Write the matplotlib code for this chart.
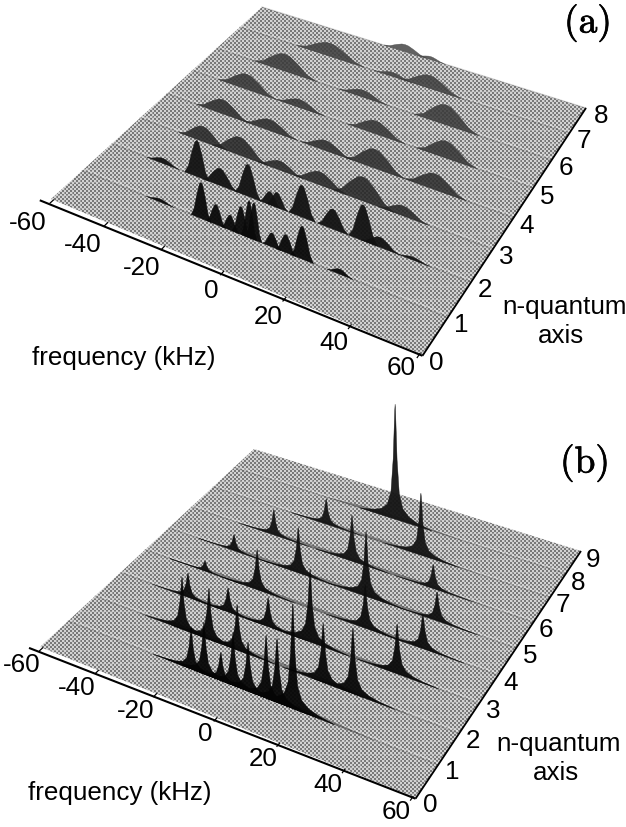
import numpy as np
import matplotlib
matplotlib.use("Agg")
import matplotlib.pyplot as plt
from matplotlib.patches import Polygon
import matplotlib.patheffects as pe

plt.rcParams['font.family'] = ['Liberation Sans', 'DejaVu Sans']

W, H = 626, 827
FS = 18.7

FREQ_TICKS = [-60, -40, -20, 0, 20, 40, 60]

# panel (a): one list per row n = 1..8
A_FREQ = [
    [-31.5, -17.2, -12.1, -7.3, -3.7, -1.0, 0.6, 6.5, 11.0, 16.2, 28.0],
    [-40.8, -28.5, -20.3, -10.6, -3.1, -0.7, 7.6, 17.7, 27.3, 32.6, 42.8],
    [-36.1, -22.7, -8.5, 5.2, 19.5, 32.4],
    [-38.4, -20.9, -1.0, 15.7, 35.5],
    [-38.6, -18.7, 8.4, 32.2],
    [-33.0, -3.9, 25.3],
    [-24.2, -0.6, 12.8],
    [-3.5, 6.0],
]
A_HEIGHT = [
    [3, 36, 20, 15, 28, 37, 37, 14, 18, 33, 5],
    [5, 36, 17, 32, 13, 15, 32, 20, 36, 10, 3],
    [15, 18, 9, 13, 24, 10],
    [14, 11, 10, 19, 16],
    [15, 8, 13, 17],
    [17, 7, 20],
    [13, 4, 13],
    [7, 3],
]
A_WIDTH = [
    [5, 3.4, 3.2, 3.0, 3.0, 2.6, 2.6, 3.0, 3.2, 3.6, 4],
    [6, 4.4, 6, 4.4, 3.6, 3.6, 4.4, 5, 4.6, 6, 5],
    [9, 10, 8, 9, 10, 8],
    [10, 10, 9, 10, 10],
    [11, 9, 10, 10],
    [12, 9, 11],
    [13, 7, 11],
    [8, 5],
]

# panel (b): one list per row n = 1..8
B_FREQ = [
    [-16.9, -12.6, -7.0, -3.0, 1.9, 7.7, 11.2, 16.2],
    [-28.7, -19.4, -9.8, 18.4, 27.8],
    [-35.3, -21.1, -7.3, 6.8, 34.9],
    [-37.7, -19.0, 17.9, 36.6],
    [-35.4, -12.2, 11.3, 34.9],
    [-28.7, -0.5, 27.4],
    [-16.9, 16.9],
    [1.3],
]
B_HEIGHT = [
    [41, 52, 28, 53, 49, 63, 64, 105],
    [52, 51, 45, 59, 66],
    [24, 24, 29, 73, 50],
    [10, 40, 43, 35],
    [16, 45, 65, 29],
    [25, 46, 24],
    [25, 62],
    [115],
]
# dark band along each row of (b): start and end frequency, band height
B_BAND_FROM = [-30, -45, -45, -48, -46, -42, -32, -25]
B_BAND_TO = [42, 46, 50, 52, 50, 46, 38, 26]
B_BAND_HEIGHT = [4, 4, 3, 3, 3, 3, 2.5, 3]

# line shapes, relative to peak centre and height
HUMP_OFFSET = [-1.0, -0.7, -0.4, -0.15, 0.0, 0.15, 0.4, 0.7, 1.0]
HUMP_SHAPE = [0.0, 0.2, 0.65, 0.95, 1.0, 0.95, 0.65, 0.2, 0.0]
SPIKE_OFFSET = [-13.0, -8.0, -5.0, -2.8, -1.5, -0.7, -0.15, 0.0, 0.15, 0.7, 1.5, 2.8, 5.0, 8.0, 13.0]
SPIKE_SHAPE = [0.0, 0.025, 0.055, 0.11, 0.23, 0.52, 0.94, 1.0, 0.94, 0.52, 0.23, 0.11, 0.055, 0.025, 0.0]

A_SHADE = [0.04, 0.07, 0.14, 0.17, 0.2, 0.22, 0.24, 0.28]
B_SHADE = [0.02, 0.03, 0.04, 0.05, 0.06, 0.08, 0.08, 0.08]

A_TICK_XY = [(28, 223), (83, 245), (142, 268), (211, 291), (268, 317), (334, 343), (401, 368)]
A_N_XY = [(436, 363), (461, 325), (485, 290), (506, 257), (527, 226), (547, 197), (566, 168), (584, 141), (601, 116)]
B_TICK_XY = [(22, 665), (77, 688), (136, 711), (205, 734), (263, 759), (328, 785), (396, 812)]
B_N_XY = [(430, 805), (452, 772), (473, 741), (493, 711), (511, 683), (530, 656), (546, 630), (563, 605), (578, 583), (593, 560)]


def make_project(corners, nmax):
    # plate plane to picture, perspective from the four corners
    (x0, y0), (x1, y1), (x2, y2), (x3, y3) = corners
    sx, sy = x0 - x1 + x2 - x3, y0 - y1 + y2 - y3
    dx1, dx2, dy1, dy2 = x1 - x2, x3 - x2, y1 - y2, y3 - y2
    den = dx1 * dy2 - dx2 * dy1
    g = (sx * dy2 - dx2 * sy) / den
    h = (dx1 * sy - sx * dy1) / den
    a, b = x1 - x0 + g * x1, x3 - x0 + h * x3
    d, e = y1 - y0 + g * y1, y3 - y0 + h * y3

    def project(f, n, z=0):
        u = (np.asarray(f, float) + 60) / 120
        v = np.asarray(n, float) / nmax
        w = g * u + h * v + 1
        return (a * u + b * v + x0) / w, (d * u + e * v + y0) / w - z
    return project


def plate_texture():
    yy, xx = np.mgrid[0:H, 0:W]
    tex = np.where((xx // 2 + yy // 2) % 2 == 0, 0.47, 0.83)
    tex = np.where((xx % 8 == 0) | (yy % 13 == 0), 0.6 * tex + 0.32, tex)
    return tex


def draw_plate(ax, project, nmax):
    corners = [project(-60, 0), project(60, 0), project(60, nmax), project(-60, nmax)]
    im = ax.imshow(plate_texture(), cmap='gray', vmin=0, vmax=1, extent=(0, W, H, 0),
                   interpolation='nearest', zorder=1)
    patch = Polygon(corners, closed=True, transform=ax.transData, fc='none', ec='none')
    ax.add_patch(patch)
    im.set_clip_path(patch)


def draw_peak(ax, project, n, f, z, offs, shape, width, grey, zo, alpha):
    fs = np.clip(f + np.array(offs) * width, -60, 60)
    zs = z * np.array(shape)
    x, y = project(fs, n, zs)
    ax.fill(x, y, color=str(grey), lw=0.3, alpha=alpha, zorder=zo)


def draw_ridge(ax, project, n, zo):
    fs = np.array([-60, 60])
    x, y = project(fs, n + 0.06)
    ax.plot(x, y, color='white', lw=0.8, alpha=0.35, zorder=zo)
    x, y = project(fs, n)
    ax.plot(x, y, color='0.25', lw=0.9, alpha=0.22, zorder=zo)


def draw_axes(ax, project, nmax, tick_xy, n_xy, xlabel_xy, nq_xy, ax_xy, tag, tag_xy):
    x, y = project([-62.5, 60], [-0.14, -0.02])
    ax.plot(x, y, color='black', lw=1.5, zorder=5, solid_capstyle='butt')
    x, y = project([60, 60], [-0.02, nmax])
    ax.plot(x, y, color='black', lw=1.3, zorder=5, solid_capstyle='butt')
    for t, (lx, ly) in zip(FREQ_TICKS, tick_xy):
        f = t * 0.985
        x, y = project([f, f], [-0.1, 0.0])
        ax.plot(x, y, color='black', lw=0.9, zorder=5)
        ax.text(lx, ly, str(t), ha='center', va='center', fontsize=FS, color='black')
    for i, (lx, ly) in enumerate(n_xy):
        ax.text(lx, ly, str(i), ha='center', va='center', fontsize=FS, color='black')
    ax.text(*xlabel_xy, 'frequency (kHz)', ha='center', va='center', fontsize=FS)
    ax.text(*nq_xy, 'n-quantum', ha='center', va='center', fontsize=FS)
    ax.text(*ax_xy, 'axis', ha='center', va='center', fontsize=FS)
    t = ax.text(*tag_xy, tag, ha='center', va='center', fontsize=27, family='cmr10')
    t.set_path_effects([pe.withStroke(linewidth=0.5, foreground='black')])


fig = plt.figure(figsize=(W / 100, H / 100), dpi=100)
ax = fig.add_axes([0, 0, 1, 1])

# panel a
proj_a = make_project([(51, 199), (423, 355), (586, 108), (262, 7)], 8)
draw_plate(ax, proj_a, 8)
for i in range(len(A_FREQ) - 1, -1, -1):
    n = i + 1
    zo = 2 + (10 - n) * 0.1
    draw_ridge(ax, proj_a, n, zo)
    for f, z, wd in zip(A_FREQ[i], A_HEIGHT[i], A_WIDTH[i]):
        draw_peak(ax, proj_a, n, f, z, HUMP_OFFSET, HUMP_SHAPE, wd, A_SHADE[i], zo + 0.01,
                  0.95 if n < 3 else 0.86)
draw_axes(ax, proj_a, 8, A_TICK_XY, A_N_XY, (124, 358), (565, 307), (561, 336), '(a)', (588, 23))

# panel b
proj_b = make_project([(40, 647), (416, 798), (581, 551), (254, 449)], 9)
draw_plate(ax, proj_b, 9)
for i in range(len(B_FREQ) - 1, -1, -1):
    n = i + 1
    zo = 2 + (10 - n) * 0.1
    draw_ridge(ax, proj_b, n, zo)
    x, y = proj_b([B_BAND_FROM[i], B_BAND_FROM[i] + 15, B_BAND_TO[i] - 20, B_BAND_TO[i]], n,
                  np.array([0, 1, 1, 0]) * B_BAND_HEIGHT[i])
    ax.fill(x, y, color='0.2', alpha=0.5, lw=0, zorder=zo)
    for f, z in zip(B_FREQ[i], B_HEIGHT[i]):
        draw_peak(ax, proj_b, n, f, z, SPIKE_OFFSET, SPIKE_SHAPE, 1.0, B_SHADE[i], zo + 0.01, 0.95)
draw_axes(ax, proj_b, 9, B_TICK_XY, B_N_XY, (120, 793), (559, 744), (556, 773), '(b)', (585, 463))

ax.set_xlim(0, W)
ax.set_ylim(H, 0)
ax.axis('off')
fig.savefig('out.png', dpi=100, facecolor='white')
